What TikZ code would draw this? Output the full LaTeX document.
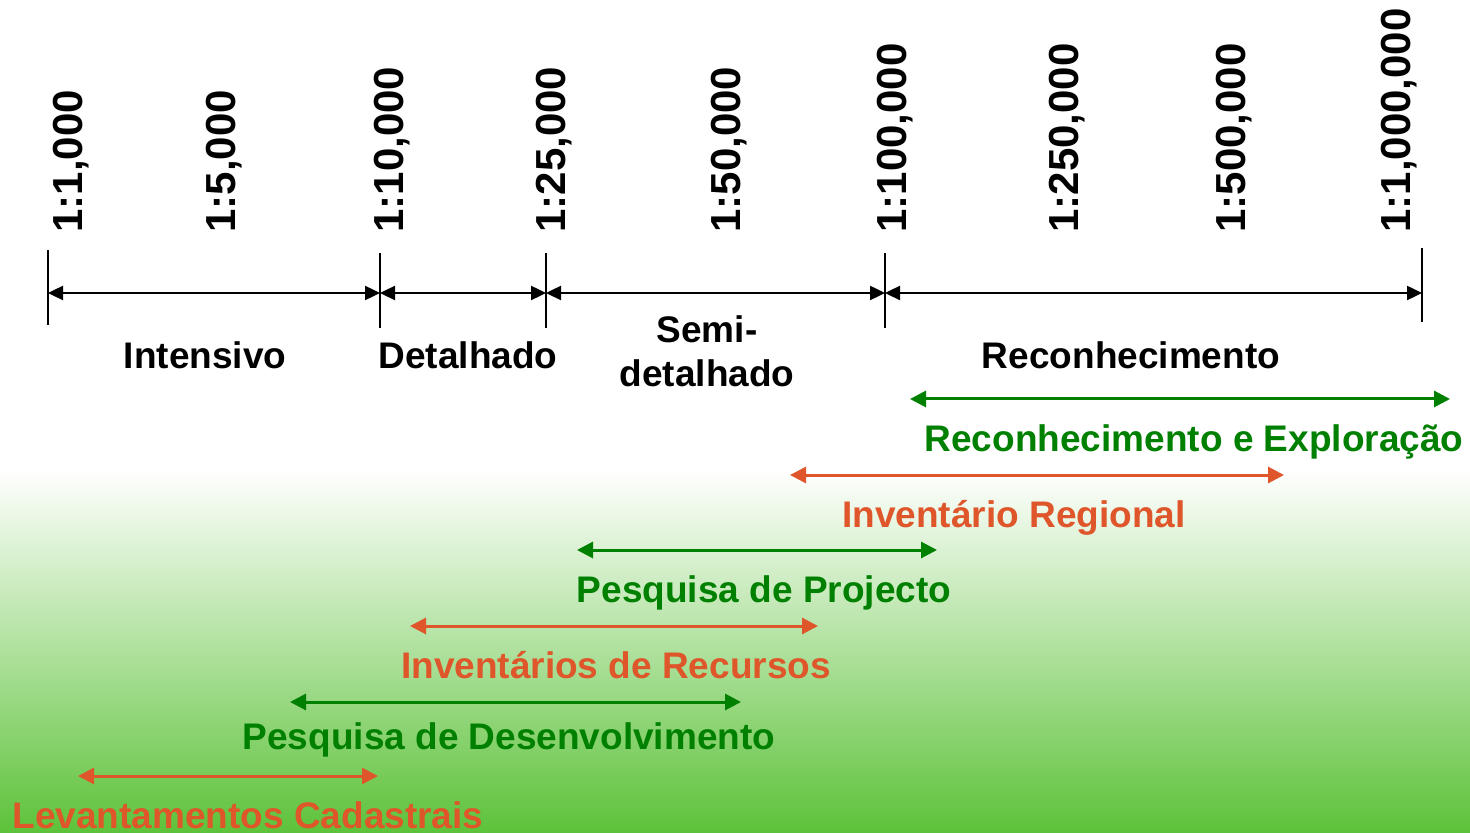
\documentclass[tikz,border=0pt]{standalone}
\usepackage{fontspec}
\setmainfont{Liberation Sans}
\usetikzlibrary{arrows.meta, positioning}
\definecolor{leafgreen}{RGB}{0,128,0}
\definecolor{rust}{RGB}{222,86,42}
\definecolor{grassgreen}{RGB}{93,194,58}
\tikzstyle{ratio} = [rotate=90, anchor=base west, inner sep=0pt, font=\fontsize{21}{24}\selectfont\bfseries]
\tikzstyle{level} = [inner sep=0pt, align=center, font=\fontsize{18.5}{22}\selectfont\bfseries]
\tikzstyle{survey} = [inner sep=0pt, font=\fontsize{18.5}{22}\selectfont\bfseries]
\tikzstyle{tick} = [line width=1pt]
\tikzstyle{span} = [line width=1.2pt, {Triangle[length=7.5pt,width=7pt]}-{Triangle[length=7.5pt,width=7pt]}]
\tikzstyle{reach} = [line width=1.5pt, {Triangle[length=8pt,width=8pt]}-{Triangle[length=8pt,width=8pt]}]

\begin{document}
\begin{tikzpicture}[x=0.5pt, y=-0.5pt]
\useasboundingbox (0,0) rectangle (1470,833);
% background
\fill[white] (0,0) rectangle (1470,470);
\shade[top color=white, bottom color=grassgreen] (0,470) rectangle (1470,833);

% scales
\node (s1) [ratio] at (82,233) {1:1,000};
\node (s2) [ratio] at (235,233) {1:5,000};
\node (s3) [ratio] at (403,233) {1:10,000};
\node (s4) [ratio] at (565,233) {1:25,000};
\node (s5) [ratio] at (740,233) {1:50,000};
\node (s6) [ratio] at (906,233) {1:100,000};
\node (s7) [ratio] at (1078,233) {1:250,000};
\node (s8) [ratio] at (1245,233) {1:500,000};
\node (s9) [ratio] at (1410,233) {1:1,000,000};

% ticks
\draw[tick] (48,250) -- (48,325);
\draw[tick] (380,253) -- (380,328);
\draw[tick] (546,253) -- (546,328);
\draw[tick] (885,253) -- (885,328);
\draw[tick] (1422,248) -- (1422,322);
\coordinate (t1) at (48,293);
\coordinate (t2) at (380,293);
\coordinate (t3) at (546,293);
\coordinate (t4) at (885,293);
\coordinate (t5) at (1422,293);
\draw[span] (t1) -- (t2);
\draw[span] (t2) -- (t3);
\draw[span] (t3) -- (t4);
\draw[span] (t4) -- (t5);

\node (intensivo) [level] at (205,355) {Intensivo};
\node (detalhado) [level] at (468,355) {Detalhado};
\node (semi) [level] at (707,351) {Semi-\\detalhado};
\node (reconh) [level] at (1131,355) {Reconhecimento};

% survey types
\coordinate (a1) at (910,399);
\coordinate (b1) at (1450,399);
\draw[reach, leafgreen] (a1) -- (b1);
\node (explor) [survey, text=leafgreen] at (1194,442) {Reconhecimento e Exploração};

\coordinate (a2) at (790,475);
\coordinate (b2) at (1284,475);
\draw[reach, rust] (a2) -- (b2);
\node (regional) [survey, text=rust] at (1014,518) {Inventário Regional};

\coordinate (a3) at (577,550);
\coordinate (b3) at (937,550);
\draw[reach, leafgreen] (a3) -- (b3);
\node (projecto) [survey, text=leafgreen] at (764,593) {Pesquisa de Projecto};

\coordinate (a4) at (410,626);
\coordinate (b4) at (818,626);
\draw[reach, rust] (a4) -- (b4);
\node (recursos) [survey, text=rust] at (616,665) {Inventários de Recursos};

\coordinate (a5) at (290,702);
\coordinate (b5) at (741,702);
\draw[reach, leafgreen] (a5) -- (b5);
\node (desenv) [survey, text=leafgreen] at (509,740) {Pesquisa de Desenvolvimento};

\coordinate (a6) at (78,776);
\coordinate (b6) at (378,776);
\draw[reach, rust] (a6) -- (b6);
\node (cadastro) [survey, text=rust] at (248,815) {Levantamentos Cadastrais};
\end{tikzpicture}
\end{document}
